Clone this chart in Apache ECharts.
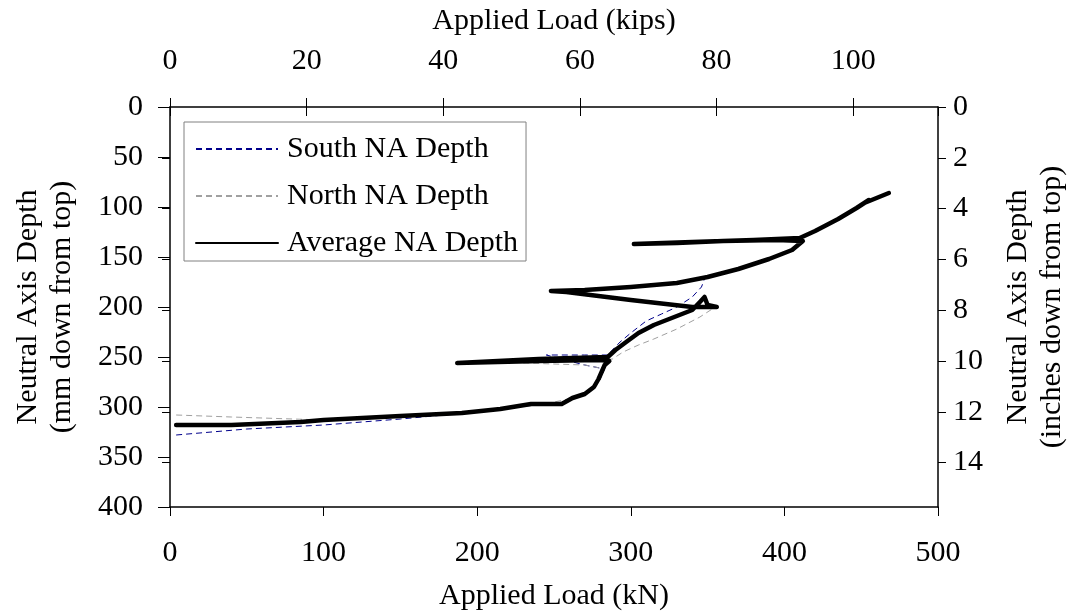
<!DOCTYPE html>
<html>
<head>
<meta charset="utf-8">
<script src="https://cdn.jsdelivr.net/npm/echarts@6/dist/echarts.min.js"></script>
<style>
html, body { margin: 0; padding: 0; background: #fff; }
#main { width: 1077px; height: 616px; }
</style>
</head>
<body>
<div id="main"></div>
<script>
// values (kN, mm)
var avgLoad = [4, 40, 85, 100, 150, 190, 215, 235, 255, 262, 270, 276, 279, 281, 283, 286, 280, 240, 187, 240, 285, 290, 297, 305, 315, 325, 340, 345, 348, 350, 356, 340, 300, 258, 248, 270, 300, 330, 350, 370, 390, 405, 412, 395, 360, 330, 302, 340, 380, 410, 420, 435, 447, 455, 452, 468];
var avgDepth = [318, 318, 315, 313, 309, 306, 302, 297, 297, 291, 287, 280, 272, 265, 258, 254, 253, 254, 256, 252, 250, 243, 235, 226, 218, 212, 203, 195, 190, 198, 200, 200, 193, 185, 184, 183, 180, 176, 170, 162, 152, 143, 134, 133, 134, 136, 137, 135, 133, 131, 124, 112, 101, 93, 96, 86];

var southLoad = [4, 50, 100, 150, 200, 230, 250, 262, 270, 276, 280, 283, 270, 245, 270, 285, 288, 293, 300, 310, 320, 330, 340, 346, 348];
var southDepth = [328, 322, 318, 312, 305, 299, 297, 292, 287, 281, 272, 262, 258, 248, 248, 248, 243, 235, 226, 214, 207, 200, 190, 180, 172];

var northLoad = [4, 40, 60, 100, 150, 200, 240, 260, 275, 280, 283, 270, 230, 270, 288, 295, 305, 315, 330, 345, 355];
var northDepth = [308, 310, 311, 313, 310, 304, 298, 292, 284, 272, 262, 258, 256, 254, 252, 245, 238, 232, 222, 210, 200];

var KN_PER_KIP = 4.448;
var MM_PER_IN = 25.4;

function pairs(xs, ys) {
    var out = [];
    for (var i = 0; i < xs.length; i++) out.push([xs[i], ys[i]]);
    return out;
}

var font = 'Liberation Serif, Times New Roman, serif';
var FS = 30;
var txt = { fontFamily: font, fontSize: FS, color: '#000' };

var myChart = echarts.init(document.getElementById('main'));

var option = {
    animation: false,
    backgroundColor: '#fff',
    textStyle: { fontFamily: font },
    grid: { left: 170, right: 136, top: 107, bottom: 105 },
    legend: {
        orient: 'vertical',
        left: 184,
        top: 122,
        padding: [12, 8, 3, 11],
        itemGap: 17,
        itemWidth: 82,
        itemHeight: 14,
        borderColor: '#808080',
        borderWidth: 1,
        backgroundColor: '#fff',
        itemStyle: { opacity: 0 },
        textStyle: { fontFamily: font, fontSize: FS, color: '#000', lineHeight: 30, padding: [0, 0, 0, 4] },
        data: ['South NA Depth', 'North NA Depth', 'Average NA Depth']
    },
    xAxis: [
        {
            type: 'value', position: 'bottom', min: 0, max: 500, interval: 100,
            name: 'Applied Load (kN)', nameLocation: 'middle', nameGap: 74, nameTextStyle: txt,
            axisLine: { onZero: false, lineStyle: { color: '#000', width: 1.5 } },
            axisTick: { length: 9, lineStyle: { color: '#000' } },
            axisLabel: { margin: 31, fontFamily: font, fontSize: FS, color: '#000' },
            splitLine: { show: false }
        },
        {
            type: 'value', position: 'top', min: 0, max: 500 / KN_PER_KIP, interval: 20,
            name: 'Applied Load (kips)', nameLocation: 'middle', nameGap: 71, nameTextStyle: txt,
            axisLine: { onZero: false, lineStyle: { color: '#000', width: 1.5 } },
            axisTick: { length: 9, lineStyle: { color: '#000' } },
            axisLabel: { margin: 31, fontFamily: font, fontSize: FS, color: '#000', showMaxLabel: false },
            splitLine: { show: false }
        },
        {
            type: 'value', position: 'top', min: 0, max: 500 / KN_PER_KIP, interval: 20,
            axisLine: { show: false },
            axisTick: { inside: true, length: 9, lineStyle: { color: '#000' } },
            axisLabel: { show: false },
            splitLine: { show: false }
        }
    ],
    yAxis: [
        {
            type: 'value', position: 'left', inverse: true, min: 0, max: 400, interval: 50,
            name: 'Neutral Axis Depth\n(mm down from top)', nameLocation: 'middle', nameRotate: 90, nameGap: 91,
            nameTextStyle: { fontFamily: font, fontSize: FS, color: '#000', lineHeight: 34 },
            axisLine: { onZero: false, lineStyle: { color: '#000', width: 1.5 } },
            axisTick: { length: 12, lineStyle: { color: '#000' } },
            axisLabel: { margin: 27, fontFamily: font, fontSize: FS, color: '#000' },
            splitLine: { show: false }
        },
        {
            type: 'value', position: 'right', inverse: true, min: 0, max: 400 / MM_PER_IN, interval: 2,
            name: 'Neutral Axis Depth\n(inches down from top)', nameLocation: 'middle', nameRotate: 90, nameGap: 63,
            nameTextStyle: { fontFamily: font, fontSize: FS, color: '#000', lineHeight: 34 },
            axisLine: { onZero: false, lineStyle: { color: '#000', width: 1.5 } },
            axisTick: { length: 8, lineStyle: { color: '#000' } },
            axisLabel: { margin: 15, fontFamily: font, fontSize: FS, color: '#000', showMaxLabel: false },
            splitLine: { show: false }
        },
        {
            type: 'value', position: 'right', inverse: true, min: 0, max: 400 / MM_PER_IN, interval: 2,
            axisLine: { show: false },
            axisTick: { inside: true, length: 8, lineStyle: { color: '#000' } },
            axisLabel: { show: false },
            splitLine: { show: false }
        }
    ],
    series: [
        {
            name: 'South NA Depth', type: 'line', xAxisIndex: 0, yAxisIndex: 0,
            symbol: 'none', color: '#00008b',
            lineStyle: { type: [6, 4], width: 1, color: '#00008b' },
            data: pairs(southLoad, southDepth)
        },
        {
            name: 'North NA Depth', type: 'line', xAxisIndex: 0, yAxisIndex: 0,
            symbol: 'none', color: '#a0a0a0',
            lineStyle: { type: [6, 4], width: 1, color: '#a0a0a0' },
            data: pairs(northLoad, northDepth)
        },
        {
            name: 'Average NA Depth', type: 'line', xAxisIndex: 0, yAxisIndex: 0,
            symbol: 'none', color: '#000',
            lineStyle: { width: 4.5, color: '#000', cap: 'round', join: 'round' },
            data: pairs(avgLoad, avgDepth)
        }
    ]
};

myChart.setOption(option);
</script>
</body>
</html>
